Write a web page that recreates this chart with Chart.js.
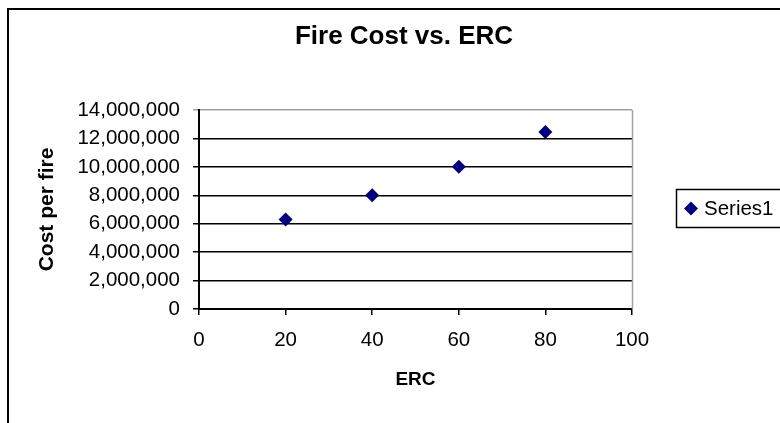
<!DOCTYPE html>
<html>
<head>
<meta charset="utf-8">
<script src="https://cdn.jsdelivr.net/npm/chart.js@4/dist/chart.umd.min.js"></script>
<style>
  html, body { margin: 0; padding: 0; background: #fff; }
  #wrap { width: 780px; height: 423px; }
</style>
</head>
<body>
<div id="wrap"><canvas id="c" width="780" height="423"></canvas></div>
<script>
// Fire cost per fire against ERC
const chartTitle = 'Fire Cost vs. ERC';
const xTitle = 'ERC';
const yTitle = 'Cost per fire';
const seriesName = 'Series1';
const ercValues = [20, 40, 60, 80];
const costPerFire = [6300000, 8000000, 10000000, 12450000];
const xTicks = [0, 20, 40, 60, 80, 100];
const yTicks = [0, 2000000, 4000000, 6000000, 8000000, 10000000, 12000000, 14000000];

const FONT = '"Liberation Sans", Arial, sans-serif';
const NAVY = '#000080';
const PLOT_GREY = '#a0a0a0';

const points = ercValues.map((x, i) => ({ x: x, y: costPerFire[i] }));

// White page, outer frame, heading, the plot's grey right edge and the legend box
const framePlugin = {
  id: 'frame',
  beforeDraw(chart) {
    const ctx = chart.ctx;
    ctx.save();
    ctx.fillStyle = '#fff';
    ctx.fillRect(0, 0, chart.width, chart.height);
    ctx.restore();
  },
  afterDraw(chart) {
    const ctx = chart.ctx;
    const a = chart.chartArea;
    ctx.save();
    // outer chart frame
    ctx.strokeStyle = '#000';
    ctx.lineWidth = 2;
    ctx.strokeRect(8, 9, 900, 600);

    // heading
    ctx.fillStyle = '#000';
    ctx.font = 'bold 26px ' + FONT;
    ctx.textAlign = 'center';
    ctx.textBaseline = 'middle';
    ctx.fillText(chartTitle, 404, 37);

    // plot area right edge
    ctx.strokeStyle = PLOT_GREY;
    ctx.lineWidth = 1.5;
    ctx.beginPath();
    ctx.moveTo(Math.round(a.right) + 0.5, a.top);
    ctx.lineTo(Math.round(a.right) + 0.5, a.bottom);
    ctx.stroke();

    // legend box
    const ds = chart.data.datasets[0];
    ctx.strokeStyle = '#000';
    ctx.lineWidth = 1.5;
    ctx.strokeRect(676.5, 189.5, 200, 38);
    ctx.fillStyle = NAVY;
    ctx.beginPath();
    ctx.moveTo(691, 201.5); ctx.lineTo(698, 208.5); ctx.lineTo(691, 215.5); ctx.lineTo(684, 208.5);
    ctx.closePath();
    ctx.fill();
    ctx.fillStyle = '#000';
    ctx.font = '20.5px ' + FONT;
    ctx.textBaseline = 'middle';
    ctx.textAlign = 'left';
    ctx.fillText(ds.label, 704, 209);
    ctx.restore();
  }
};

new Chart(document.getElementById('c'), {
  type: 'scatter',
  data: {
    datasets: [{
      label: seriesName,
      data: points,
      pointStyle: 'rectRot',
      pointRadius: 7,
      pointHoverRadius: 7,
      backgroundColor: NAVY,
      borderColor: NAVY,
      borderWidth: 0,
      showLine: false
    }]
  },
  options: {
    responsive: false,
    animation: false,
    events: [],
    layout: { padding: { left: 8, right: 148, top: 110, bottom: 0 } },
    plugins: {
      legend: { display: false },
      tooltip: { enabled: false },
      title: { display: false }
    },
    scales: {
      x: {
        type: 'linear',
        min: 0,
        max: 100,
        afterBuildTicks(scale) { scale.ticks = xTicks.map(v => ({ value: v })); },
        afterFit(scale) { scale.height = 114; },
        border: { display: true, color: '#000', width: 2 },
        grid: { drawOnChartArea: false, drawTicks: true, tickLength: 6, color: '#000', lineWidth: 1.5 },
        ticks: { color: '#000', font: { family: FONT, size: 20.5 }, padding: 13, maxRotation: 0 },
        title: {
          display: true,
          text: xTitle,
          color: '#000',
          font: { family: FONT, size: 19, weight: 'bold', lineHeight: 1.2 },
          padding: { top: 0, bottom: 32 }
        }
      },
      y: {
        type: 'linear',
        min: 0,
        max: 14000000,
        afterBuildTicks(scale) { scale.ticks = yTicks.map(v => ({ value: v })); },
        afterFit(scale) { scale.width = 191; },
        border: { display: true, color: '#000', width: 2 },
        grid: {
          drawOnChartArea: true,
          drawTicks: true,
          tickLength: 6,
          lineWidth: 1.5,
          color: (c) => (c.tick && c.tick.value === 14000000) ? PLOT_GREY : '#000'
        },
        ticks: {
          color: '#000',
          font: { family: FONT, size: 20.5 },
          padding: 13,
          callback: (v) => Number(v).toLocaleString('en-US')
        },
        title: {
          display: true,
          text: yTitle,
          color: '#000',
          font: { family: FONT, size: 21, weight: 'bold', lineHeight: 1.2 },
          padding: { top: 26.4, bottom: 0 }
        }
      }
    }
  },
  plugins: [framePlugin]
});
</script>
</body>
</html>
